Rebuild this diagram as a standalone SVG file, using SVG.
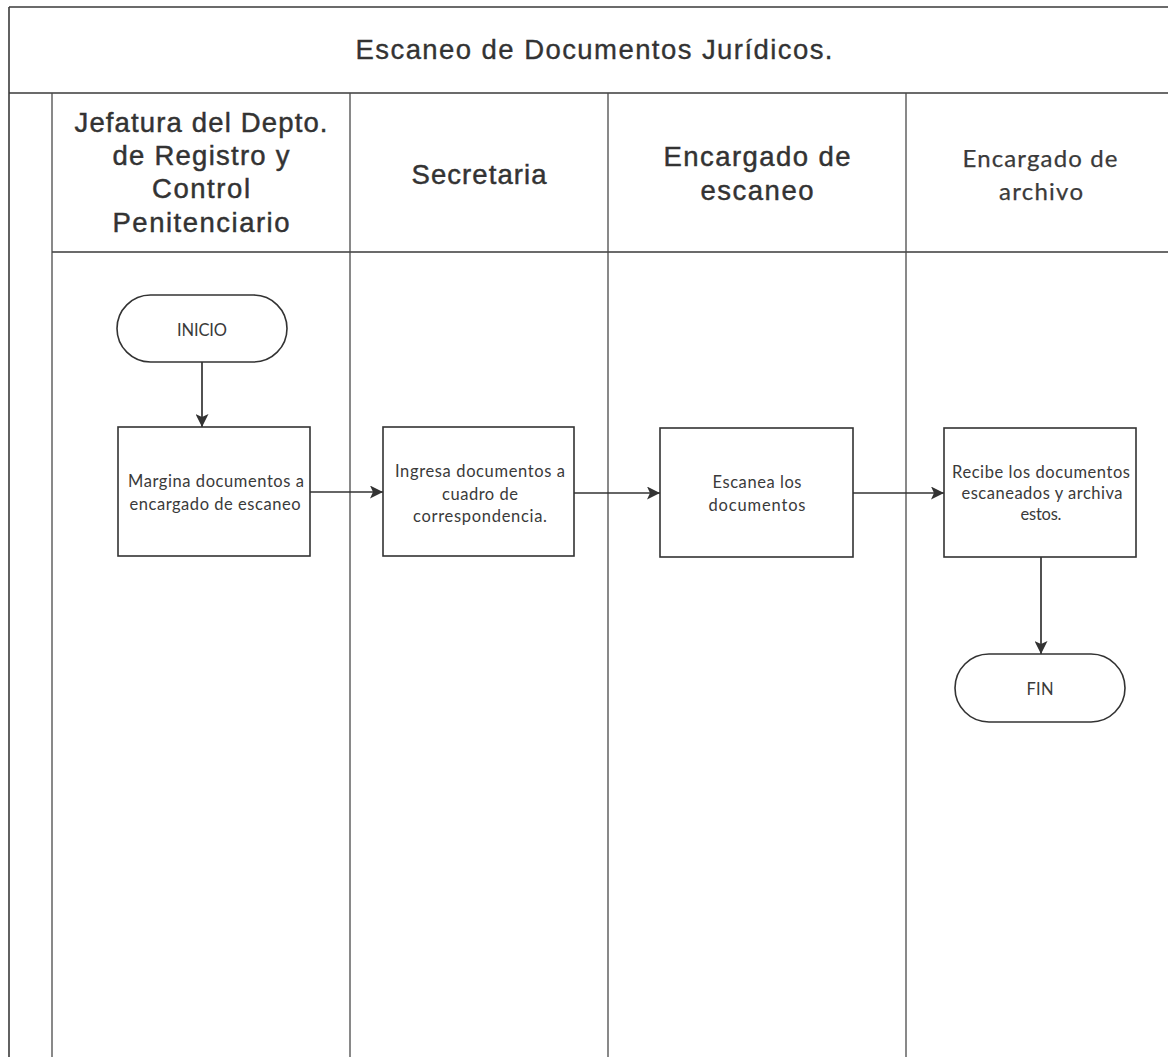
<svg xmlns="http://www.w3.org/2000/svg" width="1168" height="1057" viewBox="0 0 1168 1057">
<style>
.frame{fill:none;stroke:#3a3a3a;stroke-width:1.6}
.lane{fill:none;stroke:#4a4a4a;stroke-width:1.3}
.box{fill:#fff;stroke:#333;stroke-width:1.6}
.hdr{font-family:"Liberation Sans",Arial,sans-serif;font-size:27.5px;fill:#333;stroke:#333;stroke-width:0.45;text-anchor:middle}
.ttl{font-family:"Liberation Sans",Arial,sans-serif;font-size:27.5px;fill:#333;stroke:#333;stroke-width:0.35;text-anchor:middle}
.cal{font-family:Lato,"Noto Sans",sans-serif;fill:#3a3a3a;text-anchor:middle}
.hdr2{font-size:24px;stroke:#3a3a3a;stroke-width:0.25}
.txt{font-size:16.5px}
.conn{fill:none;stroke:#333;stroke-width:1.7}
</style>
<defs>
<marker id="ah" viewBox="0 0 13 13" refX="13" refY="6.5" markerWidth="13" markerHeight="13" markerUnits="userSpaceOnUse" orient="auto">
<path d="M0,0 L13,6.5 L0,13 L3,6.5 Z" fill="#333"/>
</marker>
</defs>
<rect width="1168" height="1057" fill="#fff"/>
<g id="frame">
<line class="frame" x1="9" y1="7" x2="1168" y2="7"/>
<line class="frame" x1="9" y1="7" x2="9" y2="1057"/>
<line class="frame" x1="9" y1="93" x2="1168" y2="93"/>
<line class="frame" x1="52" y1="252" x2="1168" y2="252"/>
<line class="lane" x1="52" y1="93" x2="52" y2="1057"/>
<line class="lane" x1="350" y1="93" x2="350" y2="1057"/>
<line class="lane" x1="608" y1="93" x2="608" y2="1057"/>
<line class="lane" x1="906" y1="93" x2="906" y2="1057"/>
<text class="ttl" x="594" y="59" textLength="477" lengthAdjust="spacing">Escaneo de Documentos Jurídicos.</text>
</g>
<g id="lane-headers">
<text class="hdr" x="201" y="132" textLength="253" lengthAdjust="spacing">Jefatura del Depto.</text>
<text class="hdr" x="201" y="165" textLength="177" lengthAdjust="spacing">de Registro y</text>
<text class="hdr" x="201" y="198" textLength="98" lengthAdjust="spacing">Control</text>
<text class="hdr" x="201" y="232" textLength="177" lengthAdjust="spacing">Penitenciario</text>
<text class="hdr" x="479" y="184" textLength="135" lengthAdjust="spacing">Secretaria</text>
<text class="hdr" x="757" y="166" textLength="187" lengthAdjust="spacing">Encargado de</text>
<text class="hdr" x="757" y="200" textLength="113" lengthAdjust="spacing">escaneo</text>
<text class="cal hdr2" x="1040" y="167" textLength="155" lengthAdjust="spacing">Encargado de</text>
<text class="cal hdr2" x="1041" y="200" textLength="84" lengthAdjust="spacing">archivo</text>
</g>
<g id="connectors">
<line class="conn" x1="202" y1="362" x2="202" y2="427" marker-end="url(#ah)"/>
<line class="conn" x1="310" y1="492" x2="383" y2="492" marker-end="url(#ah)"/>
<line class="conn" x1="574" y1="493" x2="660" y2="493" marker-end="url(#ah)"/>
<line class="conn" x1="853" y1="493" x2="944" y2="493" marker-end="url(#ah)"/>
<line class="conn" x1="1041" y1="557" x2="1041" y2="654" marker-end="url(#ah)"/>
</g>
<g id="inicio">
<rect class="box" x="117" y="295" width="170" height="67" rx="33.5"/>
<text class="cal txt" x="202" y="336" textLength="50" lengthAdjust="spacing">INICIO</text>
</g>
<g id="margina">
<rect class="box" x="118" y="427" width="192" height="129"/>
<text class="cal txt" x="216" y="487" textLength="176" lengthAdjust="spacing">Margina documentos a</text>
<text class="cal txt" x="215" y="510" textLength="171" lengthAdjust="spacing">encargado de escaneo</text>
</g>
<g id="ingresa">
<rect class="box" x="383" y="427" width="191" height="129"/>
<text class="cal txt" x="480" y="477" textLength="170" lengthAdjust="spacing">Ingresa documentos a</text>
<text class="cal txt" x="480" y="500" textLength="76" lengthAdjust="spacing">cuadro de</text>
<text class="cal txt" x="480" y="522" textLength="134" lengthAdjust="spacing">correspondencia.</text>
</g>
<g id="escanea">
<rect class="box" x="660" y="428" width="193" height="129"/>
<text class="cal txt" x="757" y="488" textLength="89" lengthAdjust="spacing">Escanea los</text>
<text class="cal txt" x="757" y="511" textLength="97" lengthAdjust="spacing">documentos</text>
</g>
<g id="recibe">
<rect class="box" x="944" y="428" width="192" height="129"/>
<text class="cal txt" x="1041" y="478" textLength="178" lengthAdjust="spacing">Recibe los documentos</text>
<text class="cal txt" x="1042" y="499" textLength="161" lengthAdjust="spacing">escaneados y archiva</text>
<text class="cal txt" x="1041" y="520" textLength="41" lengthAdjust="spacing">estos.</text>
</g>
<g id="fin">
<rect class="box" x="955" y="654" width="170" height="68" rx="34"/>
<text class="cal txt" x="1040" y="695" textLength="27" lengthAdjust="spacing">FIN</text>
</g>
</svg>
